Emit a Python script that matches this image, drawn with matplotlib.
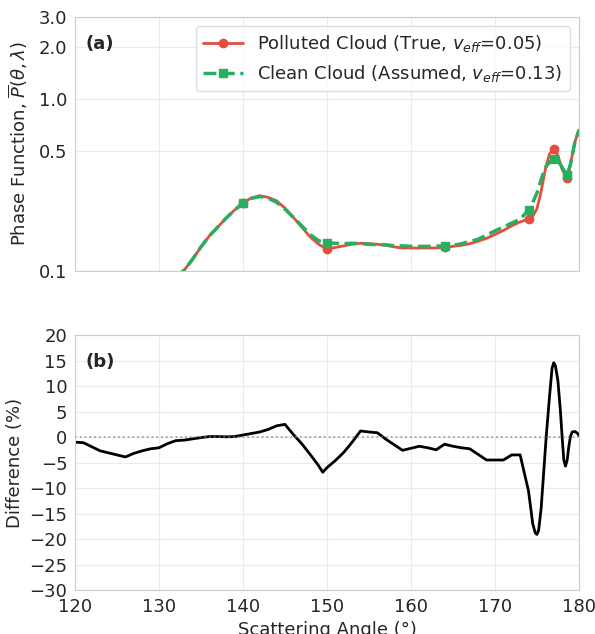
import numpy as np
import matplotlib
matplotlib.use("Agg")
import matplotlib.pyplot as plt
import seaborn as sns
from matplotlib.ticker import FixedLocator, FixedFormatter

sns.set_style("whitegrid", {"grid.color": "#ebebeb", "axes.edgecolor": "#cccccc"})
plt.rcParams['font.family'] = ['DejaVu Sans']

# ---- data: phase functions ----
angles_top = [130, 132, 133, 134, 135, 136, 137, 138, 139, 140, 141, 142, 143, 144, 145,
              146, 147, 148, 149, 150, 151, 152, 153, 154, 155, 156, 157, 158, 159, 160,
              161, 162, 163, 164, 165, 166, 167, 168, 169, 170, 171, 172, 173, 174,
              174.5, 175, 175.5, 176, 176.5, 177, 177.5, 178, 178.6, 179, 179.5, 180]
polluted = [0.080, 0.093, 0.101, 0.117, 0.138, 0.160, 0.180, 0.203, 0.226, 0.249, 0.266, 0.274, 0.268, 0.256, 0.232,
            0.205, 0.180, 0.158, 0.143, 0.134, 0.137, 0.140, 0.143, 0.145, 0.144, 0.143, 0.141, 0.138, 0.136, 0.136,
            0.136, 0.136, 0.136, 0.137, 0.139, 0.141, 0.144, 0.149, 0.155, 0.163, 0.172, 0.183, 0.193, 0.200,
            0.208, 0.230, 0.290, 0.390, 0.480, 0.510, 0.470, 0.390, 0.345, 0.420, 0.560, 0.660]
clean = [0.081, 0.093, 0.101, 0.117, 0.138, 0.160, 0.180, 0.203, 0.226, 0.248, 0.264, 0.271, 0.265, 0.251, 0.229,
         0.205, 0.183, 0.163, 0.150, 0.145, 0.145, 0.144, 0.145, 0.144, 0.143, 0.142, 0.142, 0.140, 0.140, 0.139,
         0.139, 0.139, 0.140, 0.139, 0.141, 0.144, 0.148, 0.153, 0.162, 0.171, 0.180, 0.190, 0.200, 0.226,
         0.250, 0.284, 0.340, 0.400, 0.430, 0.446, 0.440, 0.400, 0.361, 0.420, 0.555, 0.660]
marker_angles = [140, 150, 164, 174, 177, 178.6]

# ---- data: difference ----
angles_diff = [120, 121, 122, 123, 124, 125, 126, 127, 128, 129, 130, 131, 132, 133, 134, 135, 136, 137,
               138, 139, 140, 141, 142, 143, 144, 145, 146, 147, 148, 149, 149.5, 150, 151, 152, 153,
               154, 155, 156, 157, 158, 159, 160, 161, 162, 163, 164, 165, 166, 167, 168, 169, 170,
               171, 172, 173, 174, 174.5, 174.8, 175, 175.2, 175.5, 175.8, 176.1, 176.5, 176.8, 177,
               177.2, 177.5, 177.8, 178, 178.2, 178.4, 178.6, 178.8, 179, 179.2, 179.5, 179.8, 180]
difference = [-1.0, -1.1, -1.9, -2.7, -3.1, -3.5, -3.9, -3.2, -2.7, -2.3, -2.1, -1.3, -0.7, -0.6, -0.35, -0.1, 0.1, 0.1,
              0.05, 0.1, 0.4, 0.7, 1.0, 1.5, 2.2, 2.5, 0.5, -1.3, -3.4, -5.6, -6.9, -6.0, -4.6, -3.0, -1.0,
              1.2, 1.0, 0.85, -0.4, -1.5, -2.6, -2.2, -1.8, -2.1, -2.5, -1.4, -1.8, -2.1, -2.3, -3.4, -4.5, -4.5,
              -4.5, -3.5, -3.5, -10.6, -17.0, -18.8, -19.1, -18.3, -14.0, -7.0, 0.0, 8.0, 13.5, 14.6,
              14.0, 11.0, 5.0, 0.0, -4.5, -5.7, -4.5, -1.8, 0.2, 1.0, 1.1, 0.8, 0.3]

ytick_vals = [0.1, 0.5, 1.0, 2.0, 3.0]
ytick_labels = ["0.1", "0.5", "1.0", "2.0", "3.0"]

red = "#e74c3c"
green = "#27ae60"
fs = 13

fig = plt.figure(figsize=(5.95, 6.34), dpi=100)
ax1 = fig.add_axes([0.126, 0.5726, 0.847, 0.4006])
ax2 = fig.add_axes([0.126, 0.0694, 0.847, 0.402])

mk = [angles_top.index(a) for a in marker_angles]
ax1.plot(angles_top, polluted, color=red, lw=2, marker='o', ms=6, markevery=mk,
         label=r"Polluted Cloud (True, $v_{eff}$=0.05)")
ax1.plot(angles_top, clean, color=green, lw=2.5, ls='--', marker='s', ms=6, markevery=mk,
         label=r"Clean Cloud (Assumed, $v_{eff}$=0.13)")
ax1.set_yscale('log')
ax1.set_ylim(0.1, 3.0)
ax1.set_xlim(120, 180)
ax1.yaxis.set_major_locator(FixedLocator(ytick_vals))
ax1.yaxis.set_major_formatter(FixedFormatter(ytick_labels))
ax1.yaxis.set_minor_locator(FixedLocator([]))
ax1.set_xticks([120, 130, 140, 150, 160, 170, 180])
ax1.tick_params(axis='x', labelbottom=False)
ax1.tick_params(axis='y', labelsize=fs, pad=2)
ax1.set_ylabel(r"Phase Function, $\overline{P}(\theta, \lambda)$", fontsize=fs, labelpad=6)
ax1.text(0.02, 0.93, "(a)", transform=ax1.transAxes, fontsize=fs, fontweight='bold',
         va='top', ha='left')
leg = ax1.legend(loc='upper right', fontsize=fs, frameon=True, handlelength=2.2,
                 borderaxespad=0.5)
leg.get_frame().set_edgecolor("#d5d5d5")

ax2.plot(angles_diff, difference, color='black', lw=2)
ax2.axhline(0, color='gray', ls=':', lw=1.3, alpha=0.7)
ax2.set_xlim(120, 180)
ax2.set_ylim(-30, 20)
ax2.set_yticks(np.arange(-30, 21, 5))
ax2.set_xticks([120, 130, 140, 150, 160, 170, 180])
ax2.tick_params(axis='both', labelsize=fs, pad=2)
ax2.set_ylabel("Difference (%)", fontsize=fs)
ax2.set_xlabel("Scattering Angle (°)", fontsize=fs)
ax2.text(0.02, 0.93, "(b)", transform=ax2.transAxes, fontsize=fs, fontweight='bold',
         va='top', ha='left')

fig.savefig("out.png", dpi=100)
